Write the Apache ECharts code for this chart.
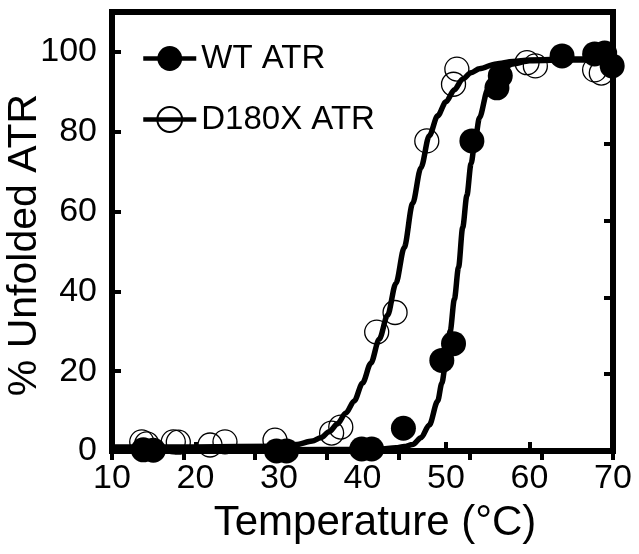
<!DOCTYPE html>
<html>
<head>
<meta charset="utf-8">
<script src="https://cdn.jsdelivr.net/npm/echarts@6/dist/echarts.min.js"></script>
<style>html,body{margin:0;padding:0;background:#fff}#c{width:639px;height:554px}</style>
</head>
<body>
<div id="c"></div>
<script>
// ---- data ----
const wtTemp = [13.75, 14.95, 29.7, 30.9, 39.9, 41.1, 44.9, 49.5, 50.9, 53.1, 56.1, 56.5, 63.9, 67.8, 69.0, 69.9];
const wtVal  = [0.3, 0.2, 0, 0, 0.5, 0.5, 5.7, 22.7, 26.9, 77.7, 91, 94, 99, 99.5, 99.7, 96.5];

const dTemp = [13.56, 14.16, 17.34, 17.94, 21.74, 23.53, 29.52, 36.3, 37.4, 41.7, 43.9, 47.7, 50.9, 51.3, 59.7, 60.7, 67.8, 68.6];
const dVal  = [2.3, 1.8, 2.3, 2.2, 1.5, 2.3, 2.7, 4.5, 6.0, 29.8, 34.7, 77.7, 91.9, 95.7, 97.3, 96.5, 95.5, 94.7];

// fitted curves
const wtFitTemp = [10, 20, 30, 40, 42, 44, 45, 46, 47, 48, 49, 49.5, 50, 50.5, 51, 51.5, 52, 52.5, 53, 53.5, 54, 55, 56, 57, 58, 60, 65, 70];
const wtFitVal  = [0.3, 0.3, 0.3, 0.4, 0.5, 0.8, 1.1, 1.6, 3.3, 6.5, 12.5, 17, 22.5, 30, 38, 46, 56, 64, 72, 78, 83.5, 90.5, 94.5, 96.2, 97, 97.8, 98, 98];

const dFitTemp = [10, 20, 30, 32, 34, 35, 36, 37, 38, 39, 40, 41, 42, 43, 44, 45, 46, 47, 48, 49, 50, 51, 52, 53, 54, 56, 58, 60, 65, 70];
const dFitVal  = [1.0, 1.0, 1.2, 1.6, 2.5, 3.3, 4.8, 6.8, 9.5, 12.5, 17, 22, 28, 34, 42, 51, 62, 71, 79, 84, 87.5, 90.5, 93.2, 94.8, 95.8, 97, 97.6, 98, 98.2, 98.2];

const xTicks = [10, 20, 30, 40, 50, 60, 70];
const yTicks = [0, 20, 40, 60, 80, 100];

const zip = (a, b) => a.map((v, i) => [v, b[i]]);
const FONT = '"Liberation Sans", Arial, Helvetica, sans-serif';

const chart = echarts.init(document.getElementById('c'), null, {renderer: 'canvas'});
chart.setOption({
  animation: false,
  backgroundColor: '#fff',
  grid: {left: 112, right: 26, top: 12, bottom: 103, show: true, borderWidth: 6, borderColor: '#000', backgroundColor: 'transparent'},
  legend: {
    orient: 'vertical', left: 136, top: 37, itemWidth: 53, itemHeight: 31, itemGap: 28,
    data: ['WT ATR', 'D180X ATR'],
    lineStyle: {width: 4.5, color: '#000'},
    textStyle: {fontFamily: FONT, fontSize: 33, color: '#000', lineHeight: 31}
  },
  xAxis: [{
    type: 'value', min: xTicks[0], max: xTicks[xTicks.length - 1], interval: 10,
    axisLine: {show: false},
    axisTick: {inside: true, length: 9, lineStyle: {color: '#000', width: 4}},
    axisLabel: {fontFamily: FONT, fontSize: 34, color: '#000', margin: 11},
    splitLine: {show: false}
  }, {
    type: 'value', position: 'top', min: 0, max: 7, interval: 1,
    axisLine: {show: false},
    axisTick: {inside: true, length: 9, lineStyle: {color: '#000', width: 4}},
    axisLabel: {show: false}, splitLine: {show: false}
  }],
  yAxis: [{
    type: 'value', min: yTicks[0], max: 110, interval: 20,
    axisLine: {show: false},
    axisTick: {inside: true, length: 9, lineStyle: {color: '#000', width: 4}},
    axisLabel: {fontFamily: FONT, fontSize: 34, color: '#000', margin: 15, showMaxLabel: false},
    splitLine: {show: false}
  }, {
    type: 'value', position: 'right', min: 0, max: 110, interval: 19.25,
    axisLine: {show: false},
    axisTick: {inside: true, length: 9, lineStyle: {color: '#000', width: 4}},
    axisLabel: {show: false}, splitLine: {show: false}
  }],
  series: [
    {name: 'D180X ATR', type: 'line', data: zip(dFitTemp, dFitVal), showSymbol: false, symbol: 'circle', symbolSize: 24,
     smooth: 0.3, smoothMonotone: 'x', lineStyle: {color: '#000', width: 5.5},
     itemStyle: {color: 'transparent', borderColor: '#000', borderWidth: 1.3}, z: 3},
    {name: 'WT ATR', type: 'line', data: zip(wtFitTemp, wtFitVal), showSymbol: false, symbol: 'circle', symbolSize: 25,
     smooth: 0.3, smoothMonotone: 'x', lineStyle: {color: '#000', width: 5.5},
     itemStyle: {color: '#000'}, z: 3},
    {name: 'D180X pts', type: 'scatter', data: zip(dTemp, dVal), symbol: 'circle', symbolSize: 24, clip: false,
     itemStyle: {color: 'transparent', borderColor: '#000', borderWidth: 1.3, opacity: 1}, z: 4},
    {name: 'WT pts', type: 'scatter', data: zip(wtTemp, wtVal), symbol: 'circle', symbolSize: 25, clip: false,
     itemStyle: {color: '#000', opacity: 1}, z: 5}
  ],
  graphic: [
    {type: 'text', x: 25, y: 245, rotation: Math.PI / 2,
     style: {text: '% Unfolded ATR', fontFamily: FONT, fontSize: 41, fill: '#000', textAlign: 'center', textVerticalAlign: 'middle'}},
    {type: 'text', x: 375, y: 523,
     style: {text: 'Temperature (°C)', fontFamily: FONT, fontSize: 42, fill: '#000', textAlign: 'center', textVerticalAlign: 'middle'}}
  ]
});
</script>
</body>
</html>
